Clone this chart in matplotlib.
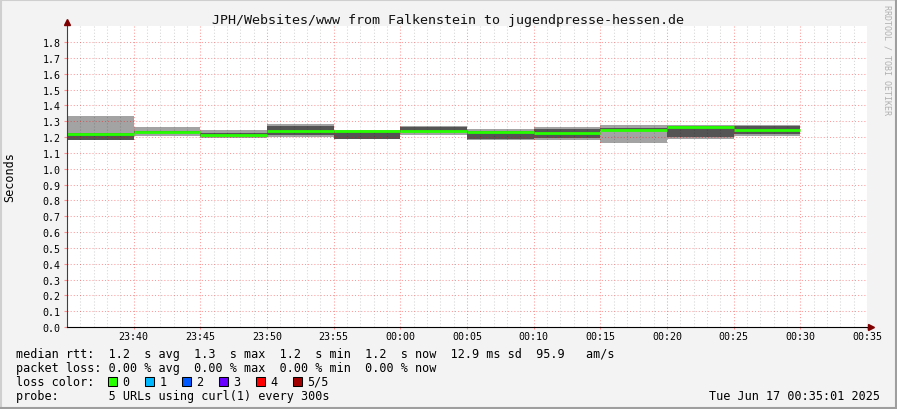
import matplotlib.pyplot as plt
import numpy as np
from matplotlib.lines import Line2D
from matplotlib.patches import Rectangle

plt.rcParams['font.family'] = 'DejaVu Sans Mono'

#%% Data, one slot = 5 min, minutes after 23:35
slot_start = [0, 5, 10, 15, 20, 25, 30, 35, 40, 45, 50]
slot_len = 5

# smoke: sorted rtt of the 5 urls (seconds)
p_min  = [1.178, 1.205, 1.196, 1.200, 1.185, 1.215, 1.178, 1.178, 1.165, 1.190, 1.204]
p_lo   = [1.182, 1.226, 1.205, 1.213, 1.190, 1.234, 1.187, 1.196, 1.235, 1.197, 1.222]
median = [1.222, 1.232, 1.213, 1.238, 1.236, 1.238, 1.229, 1.228, 1.247, 1.265, 1.244]
p_hi   = [1.228, 1.237, 1.228, 1.267, 1.240, 1.262, 1.235, 1.250, 1.260, 1.268, 1.272]
p_max  = [1.335, 1.263, 1.245, 1.280, 1.243, 1.267, 1.250, 1.263, 1.274, 1.276, 1.276]

x_ticks = [5, 10, 15, 20, 25, 30, 35, 40, 45, 50, 55, 60]
x_labels = ["23:40", "23:45", "23:50", "23:55", "00:00", "00:05",
            "00:10", "00:15", "00:20", "00:25", "00:30", "00:35"]
y_ticks = [0.0, 0.1, 0.2, 0.3, 0.4, 0.5, 0.6, 0.7, 0.8, 0.9,
           1.0, 1.1, 1.2, 1.3, 1.4, 1.5, 1.6, 1.7, 1.8]

# legend numbers
rtt_avg, rtt_max, rtt_min, rtt_now = 1.2, 1.3, 1.2, 1.2
rtt_sd_ms, am_s = 12.9, 95.9
loss_avg, loss_max, loss_min, loss_now = 0.0, 0.0, 0.0, 0.0
loss_labels = ["0", "1", "2", "3", "4", "5/5"]
loss_colors = ['#26ff00', '#00b8ff', '#0059ff', '#6a00ff', '#ff0000', '#a10000']

title = "JPH/Websites/www from Falkenstein to jugendpresse-hessen.de"
stamp = "Tue Jun 17 00:35:01 2025"

#%% Plot
W, H = 897, 410
def fx(px):
    return px / W
def fy(py):
    return 1 - py / H

fig = plt.figure(figsize=(W / 100, H / 100), dpi=100, facecolor='#f3f3f3')
ax = fig.add_axes([fx(67), fy(328), 800 / W, 301 / H])
ax.set_facecolor('white')

starts = np.array(slot_start)
ax.bar(starts, np.array(p_max) - np.array(p_min), bottom=p_min, width=slot_len,
       align='edge', color='#a3a3a3', linewidth=0, zorder=1)
ax.bar(starts, np.array(p_hi) - np.array(p_lo), bottom=p_lo, width=slot_len,
       align='edge', color='#545454', linewidth=0, zorder=1.1)
ax.hlines(median, starts, starts + slot_len, colors=loss_colors[0], lw=2.0, zorder=3)

ax.set_xlim(0, 60)
ax.set_ylim(0, 301 / 158.33)
ax.set_xticks(x_ticks)
ax.set_xticklabels(x_labels)
ax.set_xticks(np.arange(0, 61, 1), minor=True)
ax.set_yticks(y_ticks)
ax.set_yticklabels(["%.1f" % v for v in y_ticks])

ax.set_axisbelow(False)
ax.grid(True, which='minor', axis='x', color='black', alpha=0.17, ls=(0, (1, 2)), lw=0.75)
ax.grid(True, which='major', axis='both', color='#ff0000', alpha=0.4, ls=(0, (1, 2)), lw=0.75)

ax.tick_params(axis='x', which='major', length=1.5, color='#ff9090', pad=1.2, labelsize=7.2)
ax.tick_params(axis='x', which='minor', length=0)
ax.tick_params(axis='y', length=2.5, color='#ff9090', pad=2.2, labelsize=7.2)

for s in ax.spines.values():
    s.set_visible(False)
# axes with arrows
ax.plot([0, 0], [0, 1.015], transform=ax.transAxes, color='#404040', lw=0.8, clip_on=False, zorder=5)
ax.plot([0, 1.005], [0, 0], transform=ax.transAxes, color='black', lw=0.8, clip_on=False, zorder=5)
ax.plot([0], [1.0133], transform=ax.transAxes, marker='^', ms=4.5, color='#7f0000', clip_on=False, zorder=6)
ax.plot([1.0045], [0], transform=ax.transAxes, marker='>', ms=4.5, color='#7f0000', clip_on=False, zorder=6)

# texts
fig.text(fx(448), fy(24), title, ha='center', va='baseline', fontsize=9.6, color='#111111')
fig.text(fx(10), fy(177), "Seconds", rotation=90, ha='center', va='center', fontsize=8.5)
fig.text(fx(887), fy(60), "RRDTOOL / TOBI OETIKER", rotation=270, ha='center', va='center',
         fontsize=6, color='#b0b0b0')

line1 = (f"median rtt:  {rtt_avg:.1f}  s avg  {rtt_max:.1f}  s max  {rtt_min:.1f}  s min  "
         f"{rtt_now:.1f}  s now  {rtt_sd_ms:.1f} ms sd  {am_s:.1f}   am/s")
line2 = (f"packet loss: {loss_avg:.2f} % avg  {loss_max:.2f} % max  "
         f"{loss_min:.2f} % min  {loss_now:.2f} % now")
fig.text(fx(16), fy(358), line1, va='baseline', fontsize=8.5)
fig.text(fx(16), fy(372), line2, va='baseline', fontsize=8.5)
fig.text(fx(16), fy(386), "loss color:", va='baseline', fontsize=8.5)
for k, (lab, col) in enumerate(zip(loss_labels, loss_colors)):
    bx = 108.3 + 37 * k
    fig.add_artist(Rectangle((fx(bx), fy(386.5)), 9 / W, 9 / H, transform=fig.transFigure,
                             facecolor=col, edgecolor='black', lw=0.75))
    fig.text(fx(bx + 14), fy(386), lab, va='baseline', fontsize=8.5)
fig.text(fx(16), fy(400), "probe:       5 URLs using curl(1) every 300s", va='baseline', fontsize=8.5)
fig.text(fx(880), fy(400), stamp, ha='right', va='baseline', fontsize=8.5)

# 3d frame
fig.add_artist(Line2D([0, 1], [fy(1), fy(1)], transform=fig.transFigure, color='#cfcfcf', lw=1.5))
fig.add_artist(Line2D([fx(1), fx(1)], [0, 1], transform=fig.transFigure, color='#cfcfcf', lw=1.5))
fig.add_artist(Line2D([0, 1], [fy(409), fy(409)], transform=fig.transFigure, color='#9e9e9e', lw=1.5))
fig.add_artist(Line2D([fx(896), fx(896)], [0, 1], transform=fig.transFigure, color='#9e9e9e', lw=1.5))

fig.savefig('out.png', dpi=100, facecolor=fig.get_facecolor())
